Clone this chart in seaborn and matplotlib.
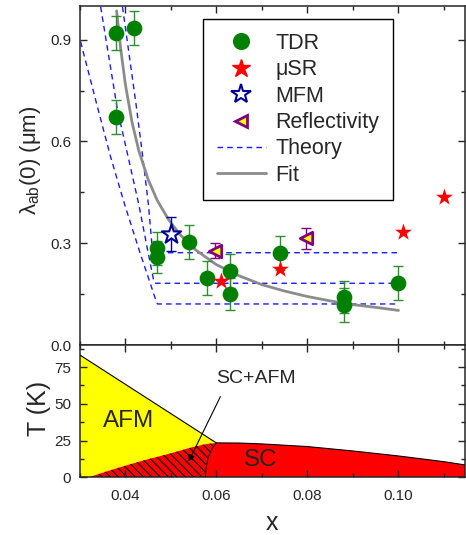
import numpy as np
import matplotlib
matplotlib.use('Agg')
import matplotlib.pyplot as plt
import seaborn as sns
from matplotlib.lines import Line2D
from matplotlib.ticker import MultipleLocator, FormatStrFormatter

# ---------------- data ----------------
tdr_x = [0.038, 0.042, 0.038, 0.047, 0.047, 0.054, 0.058, 0.063, 0.063, 0.074, 0.088, 0.088, 0.100]
tdr_y = [0.920, 0.934, 0.673, 0.285, 0.259, 0.305, 0.197, 0.219, 0.150, 0.272, 0.141, 0.118, 0.182]
tdr_err = [0.05, 0.05, 0.05, 0.049, 0.048, 0.05, 0.05, 0.05, 0.048, 0.05, 0.048, 0.05, 0.05]

musr_x = [0.061, 0.074, 0.101, 0.110]
musr_y = [0.190, 0.225, 0.333, 0.437]

mfm_x = [0.050]
mfm_y = [0.326]
mfm_err = [0.05]

refl_x = [0.0598, 0.0798]
refl_y = [0.278, 0.314]
refl_err = [0.022, 0.031]

theory_a_x = [0.0302, 0.0338, 0.0368, 0.0399, 0.0432, 0.0467, 0.0471, 0.0997]
theory_a_y = [0.894, 0.707, 0.554, 0.413, 0.274, 0.133, 0.121, 0.121]
theory_b_x = [0.0346, 0.0383, 0.0408, 0.0430, 0.0447, 0.0463, 0.0467, 0.0997]
theory_b_y = [0.997, 0.693, 0.545, 0.413, 0.295, 0.186, 0.182, 0.182]
theory_c_x = [0.0394, 0.0424, 0.0438, 0.0451, 0.0460, 0.0463, 0.0997]
theory_c_y = [0.997, 0.707, 0.560, 0.413, 0.275, 0.272, 0.272]

fit_x = [0.0381, 0.0390, 0.0400, 0.0415, 0.0430, 0.0450, 0.0470, 0.0495, 0.0520, 0.0555,
         0.0600, 0.0650, 0.0700, 0.0750, 0.0800, 0.0850, 0.0900, 0.0950, 0.1000]
fit_y = [0.985, 0.874, 0.771, 0.656, 0.572, 0.489, 0.427, 0.370, 0.326, 0.280,
         0.237, 0.204, 0.178, 0.159, 0.143, 0.130, 0.119, 0.111, 0.102]

# phase diagram
afm_x = [0.030, 0.060]
afm_T = [83.3, 23.4]
dome_x = [0.0320, 0.0357, 0.0400, 0.0444, 0.0500, 0.0546, 0.0576, 0.0600,
          0.0650, 0.0700, 0.0800, 0.0900, 0.1000, 0.1100, 0.1146]
dome_T = [0.0, 3.8, 7.9, 11.8, 16.3, 20.4, 22.5, 23.4,
          23.3, 22.7, 20.9, 17.9, 14.5, 10.6, 8.4]
coex_x = [0.0600, 0.0590, 0.0583, 0.0578, 0.0576]
coex_T = [23.4, 19.0, 14.0, 7.2, 0.0]

x_ticks = [0.04, 0.06, 0.08, 0.10]

# ---------------- style ----------------
sns.set_style('ticks')
plt.rcParams['font.family'] = ['Liberation Sans', 'DejaVu Sans']
plt.rcParams['mathtext.fontset'] = 'custom'
plt.rcParams['mathtext.rm'] = 'Liberation Sans'
plt.rcParams['mathtext.it'] = 'Liberation Sans:italic'
plt.rcParams['hatch.linewidth'] = 0.8
plt.rcParams['axes.linewidth'] = 1.1

GREEN = '#008000'
BLUE = '#1a1aff'
GRAY = '#8c8c8c'

fig = plt.figure(figsize=(4.66, 5.35), dpi=100)
ax1 = fig.add_axes([0.171, 0.3551, 0.8268, 0.6342])
ax2 = fig.add_axes([0.171, 0.1079, 0.8268, 0.2472])

# ---------------- top panel ----------------
for tx, ty in [(theory_a_x, theory_a_y), (theory_b_x, theory_b_y), (theory_c_x, theory_c_y)]:
    sns.lineplot(x=tx, y=ty, ax=ax1, sort=False, estimator=None, color=BLUE,
                 lw=1.0, linestyle=(0, (4, 3)), zorder=2)
sns.lineplot(x=fit_x, y=fit_y, ax=ax1, sort=False, estimator=None, color=GRAY,
             lw=2.0, zorder=2)

ax1.errorbar(tdr_x, tdr_y, yerr=tdr_err, fmt='none', ecolor='#2f8f2f', elinewidth=1,
             capsize=3.6, capthick=1, zorder=3)
ax1.errorbar(mfm_x, mfm_y, yerr=mfm_err, fmt='none', ecolor='#000099', elinewidth=1,
             capsize=3.6, capthick=1, zorder=3)
ax1.errorbar(refl_x, refl_y, yerr=refl_err, fmt='none', ecolor='#800080', elinewidth=1,
             capsize=3.6, capthick=1, zorder=3)

sns.scatterplot(x=tdr_x, y=tdr_y, ax=ax1, marker='o', s=128, color=GREEN,
                edgecolor=GREEN, linewidth=0, zorder=4)
sns.scatterplot(x=musr_x, y=musr_y, ax=ax1, marker='*', s=165, color='#ff0000',
                edgecolor='#ff0000', linewidth=0, zorder=4)
sns.scatterplot(x=mfm_x, y=mfm_y, ax=ax1, marker='*', s=210, color='white',
                edgecolor='#000099', linewidth=1.5, zorder=4)
sns.scatterplot(x=refl_x, y=refl_y, ax=ax1, marker='<', s=80, color='#ffff00',
                edgecolor='#800080', linewidth=2, zorder=4)

ax1.set_xlim(0.03, 0.1146)
ax1.set_ylim(0.0, 1.0)
ax1.xaxis.set_major_locator(MultipleLocator(0.02))
ax1.xaxis.set_minor_locator(MultipleLocator(0.01))
ax1.yaxis.set_major_locator(MultipleLocator(0.3))
ax1.yaxis.set_minor_locator(MultipleLocator(0.15))
ax1.yaxis.set_major_formatter(FormatStrFormatter('%.1f'))
ax1.tick_params(which='both', direction='in', top=True, right=True,
                labelbottom=False, labelsize=11, pad=6, width=1)
ax1.tick_params(which='major', length=5.3)
ax1.tick_params(which='minor', length=3)
ax1.set_ylabel('λ$_\\mathregular{ab}$(0) (μm)', fontsize=16)
ax1.yaxis.set_label_coords(-0.095, 0.545)

handles = [
    Line2D([], [], ls='none', marker='o', ms=11.3, color=GREEN, mec=GREEN),
    Line2D([], [], ls='none', marker='*', ms=13.5, color='#ff0000', mec='#ff0000'),
    Line2D([], [], ls='none', marker='*', ms=14.5, mfc='white', mec='#000099', mew=1.5),
    Line2D([], [], ls='none', marker='<', ms=9, mfc='#ffff00', mec='#800080', mew=2),
    Line2D([], [], color=BLUE, lw=1.0, ls=(0, (4, 3))),
    Line2D([], [], color=GRAY, lw=2.0),
]
labels = ['TDR', 'μSR', 'MFM', 'Reflectivity', 'Theory', 'Fit']
leg = ax1.legend(handles, labels, loc='upper left', bbox_to_anchor=(0.319, 0.961),
                 borderaxespad=0, fontsize=15.5, frameon=True, fancybox=False,
                 edgecolor='black', framealpha=1, handlelength=2.3,
                 handletextpad=0.42, labelspacing=0.25, borderpad=0.65)
leg.get_frame().set_linewidth(1.0)

# ---------------- bottom panel ----------------
dx = np.array(dome_x)
dT = np.array(dome_T)
left = dx <= 0.0600
yel_x = np.concatenate([[afm_x[0], afm_x[0], afm_x[1]], dx[left][::-1]])
yel_T = np.concatenate([[0.0, afm_T[0], afm_T[1]], dT[left][::-1]])
ax2.fill(yel_x, yel_T, facecolor='#ffff00', edgecolor='none', zorder=1)
ax2.fill_between(dx, 0, dT, facecolor='#ff0000', edgecolor='none', zorder=1)
hat_x = np.concatenate([dx[left], coex_x[1:]])
hat_T = np.concatenate([dT[left], coex_T[1:]])
ax2.fill(hat_x, hat_T, facecolor='none', edgecolor='black', hatch='\\\\\\\\',
         linewidth=0, zorder=2)
ax2.plot(afm_x, afm_T, color='black', lw=0.8, zorder=3)
ax2.plot(dx[dx >= 0.06], dT[dx >= 0.06], color='black', lw=0.8, zorder=3)
ax2.plot(coex_x, coex_T, color='black', lw=0.6, zorder=3)

ax2.text(0.0407, 34.1, 'AFM', ha='center', va='baseline', fontsize=17.5)
ax2.text(0.0697, 7.7, 'SC', ha='center', va='baseline', fontsize=17.5)
ax2.text(0.0688, 64.0, 'SC+AFM', ha='center', va='baseline', fontsize=14)
ax2.annotate('', xy=(0.0539, 10.6), xytext=(0.0609, 54.9),
             arrowprops=dict(arrowstyle='-|>', color='black', lw=0.8,
                             mutation_scale=10, shrinkA=0, shrinkB=0))

ax2.set_xlim(0.03, 0.1146)
ax2.set_ylim(0, 90)
ax2.set_xticks(x_ticks)
ax2.xaxis.set_minor_locator(MultipleLocator(0.01))
ax2.xaxis.set_major_formatter(FormatStrFormatter('%.2f'))
ax2.yaxis.set_major_locator(MultipleLocator(25))
ax2.yaxis.set_minor_locator(MultipleLocator(12.5))
ax2.tick_params(which='both', direction='in', top=True, right=True,
                labelsize=11, width=1)
ax2.tick_params(axis='y', pad=6)
ax2.tick_params(axis='x', pad=8.5)
ax2.tick_params(which='major', length=5.3)
ax2.tick_params(which='minor', length=3)
ax2.set_xlabel('x', fontsize=18)
ax2.set_ylabel('T (K)', fontsize=18)
ax2.yaxis.set_label_coords(-0.075, 0.524)
ax2.xaxis.set_label_coords(0.5, -0.255)

for ax in (ax1, ax2):
    for s in ax.spines.values():
        s.set_linewidth(1.1)
        s.set_visible(True)
    ax.set_axisbelow(False)

fig.savefig('out.png', dpi=100)
